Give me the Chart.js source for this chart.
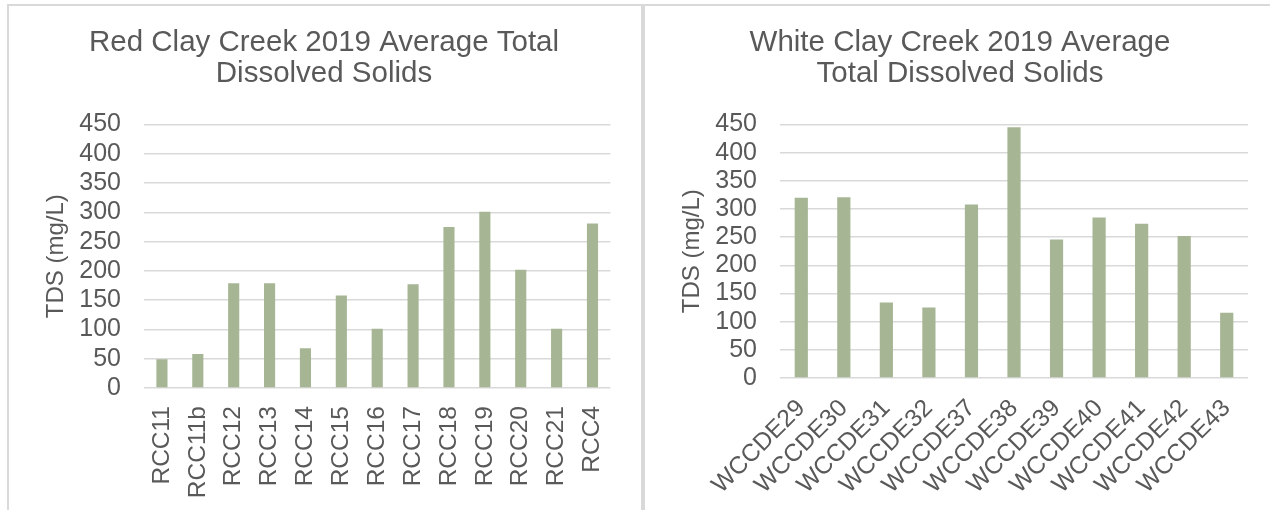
<!DOCTYPE html>
<html>
<head>
<meta charset="utf-8">
<title>Red Clay / White Clay Creek 2019 TDS</title>
<script src="https://cdn.jsdelivr.net/npm/chart.js@4/dist/chart.umd.min.js"></script>
<style>
  html, body { margin: 0; padding: 0; background: #fff; overflow: hidden; }
  .box {
    position: absolute;
    top: 4px;
    height: 520px;
    border: 2px solid #d9d9d9;
    border-bottom: none;
    background: #fff;
  }
  #redBox { left: 7px; width: 632px; }
  #whiteBox { left: 643px; width: 640px; border-right: none; }
  canvas { display: block; }
</style>
</head>
<body>
<div class="box" id="redBox"><canvas id="redClayChart" width="632" height="504"></canvas></div>
<div class="box" id="whiteBox"><canvas id="whiteClayChart" width="625" height="504"></canvas></div>

<script>
// Red Clay Creek sites and average TDS (mg/L)
const redSites = ["RCC11", "RCC11b", "RCC12", "RCC13", "RCC14", "RCC15", "RCC16",
  "RCC17", "RCC18", "RCC19", "RCC20", "RCC21", "RCC4"];
const redTds = [49, 58, 179, 179, 68, 158, 101, 177, 275, 301, 202, 101, 281];

// White Clay Creek sites and average TDS (mg/L)
const whiteSites = ["WCCDE29", "WCCDE30", "WCCDE31", "WCCDE32", "WCCDE37", "WCCDE38",
  "WCCDE39", "WCCDE40", "WCCDE41", "WCCDE42", "WCCDE43"];
const whiteTds = [320, 321, 134, 125, 308, 445, 246, 285, 274, 252, 116];

// y axis ticks
const tdsMin = 0;
const tdsMax = 450;
const tdsStep = 50;
const tdsAxisTitle = "TDS (mg/L)";

const textColor = "#595959";
const gridColor = "#d9d9d9";
const barColor = "#a6b593";
const fontFamily = "'Liberation Sans', Arial, sans-serif";

function makeTdsChart(canvasId, titleLines, labels, values, opts) {
  const ctx = document.getElementById(canvasId).getContext("2d");
  return new Chart(ctx, {
    type: "bar",
    data: {
      labels: labels,
      datasets: [{
        label: "TDS",
        data: values,
        backgroundColor: barColor,
        barPercentage: opts.barPct,
        categoryPercentage: 1.0
      }]
    },
    options: {
      responsive: false,
      animation: false,
      // left padding keeps the title centred on the box, like the original
      layout: { padding: { left: 27, right: opts.padRight, top: 0, bottom: 0 } },
      plugins: {
        legend: { display: false },
        tooltip: { enabled: false },
        title: {
          display: true,
          text: titleLines,
          color: textColor,
          font: { family: fontFamily, size: 29.5, weight: "normal", lineHeight: 1.06 },
          padding: { top: 21, bottom: 35 }
        }
      },
      scales: {
        x: {
          grid: { display: false, drawTicks: false },
          border: { display: false },
          ticks: {
            color: textColor,
            font: { family: fontFamily, size: 24.5 },
            minRotation: opts.rotation,
            maxRotation: opts.rotation,
            autoSkip: false,
            padding: opts.labelPad
          },
          afterFit: function (scale) { scale.height = opts.xHeight; }
        },
        y: {
          min: tdsMin,
          max: tdsMax,
          grid: { color: gridColor, lineWidth: 1.5, drawTicks: false },
          border: { display: false },
          ticks: {
            stepSize: tdsStep,
            autoSkip: false,
            color: textColor,
            font: { family: fontFamily, size: 25 },
            padding: 23
          },
          title: {
            display: true,
            text: tdsAxisTitle,
            color: textColor,
            font: { family: fontFamily, size: 24 },
            padding: { top: 6, bottom: 0 }
          },
          afterFit: function (scale) { scale.width = 108; }
        }
      }
    }
  });
}

function drawCharts() {
  makeTdsChart("redClayChart",
    ["Red Clay Creek 2019 Average Total", "Dissolved Solids"],
    redSites, redTds,
    { barPct: 0.31, padRight: 29, rotation: 90, labelPad: 18, xHeight: 122 });

  makeTdsChart("whiteClayChart",
    ["White Clay Creek 2019 Average", "Total Dissolved Solids"],
    whiteSites, whiteTds,
    { barPct: 0.31, padRight: 22, rotation: 45, labelPad: 16, xHeight: 132 });
}

window.addEventListener("DOMContentLoaded", drawCharts);
</script>
</body>
</html>
